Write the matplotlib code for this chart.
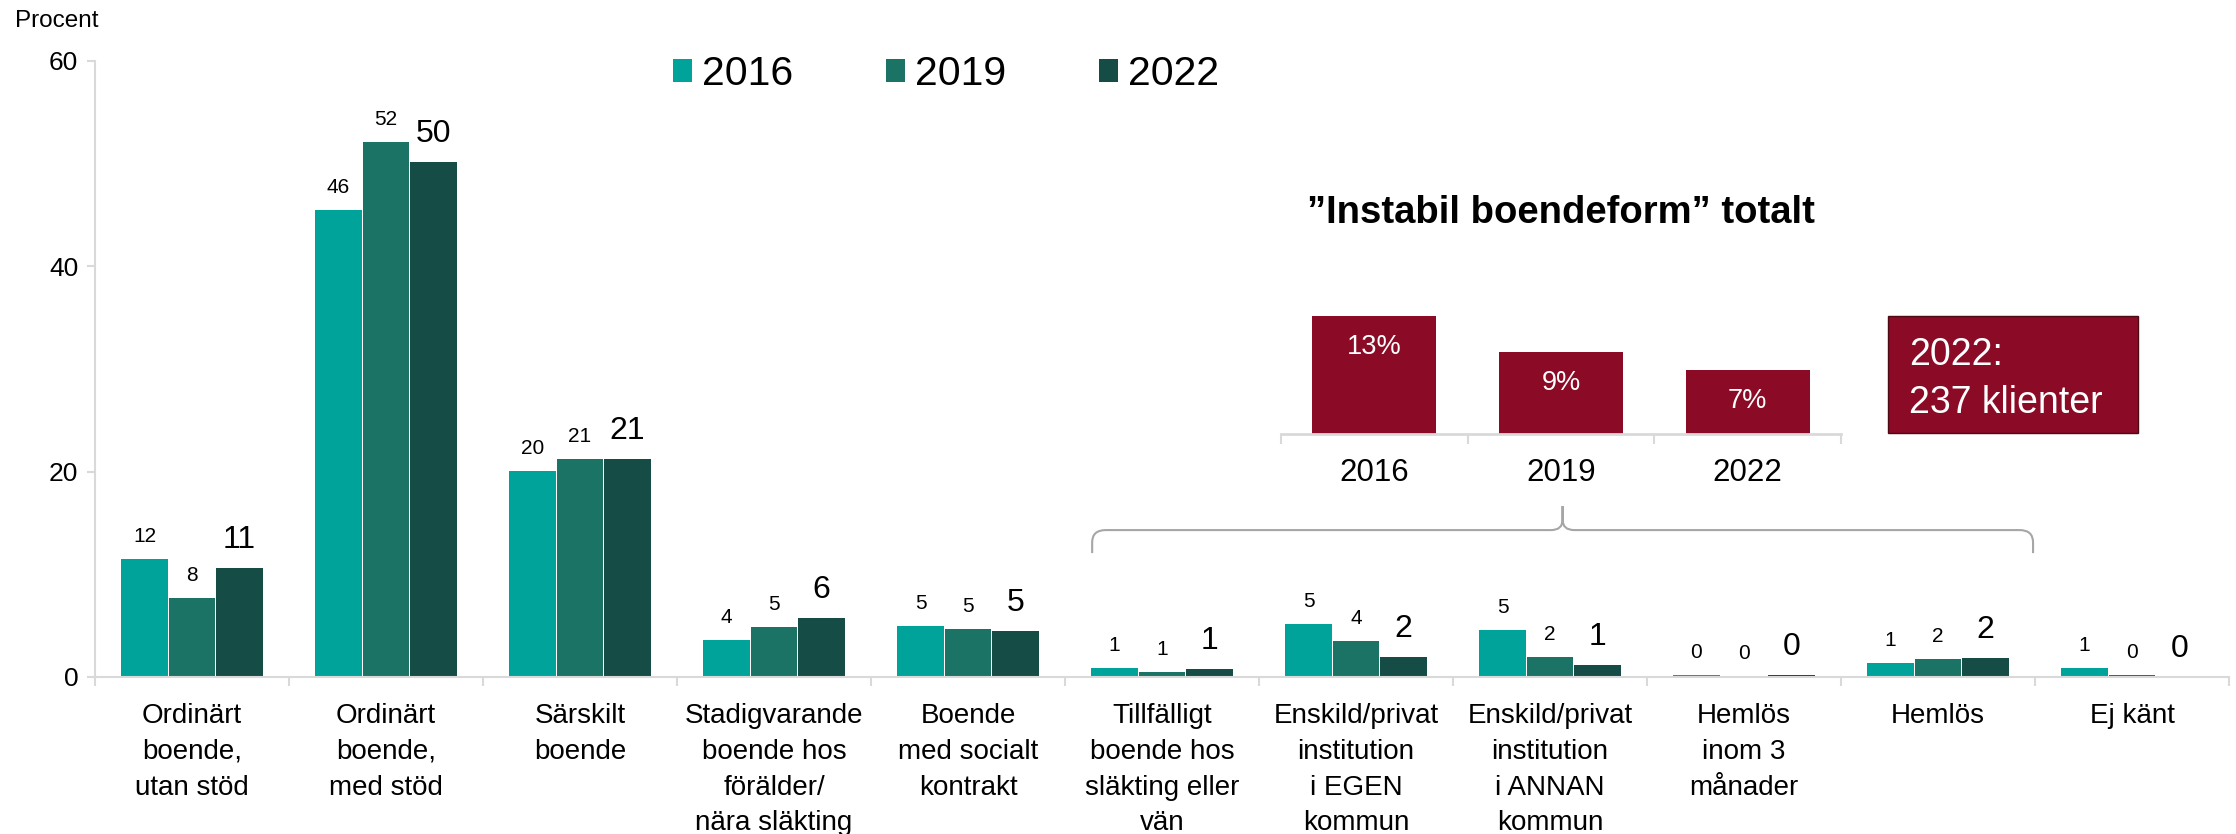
import numpy as np
import matplotlib
matplotlib.use("Agg")
import matplotlib.pyplot as plt
from matplotlib.path import Path
from matplotlib.patches import PathPatch, Rectangle

plt.rcParams['font.family'] = ['Liberation Sans', 'DejaVu Sans']

# data
categories = ["Ordinärt\nboende,\nutan stöd", "Ordinärt\nboende,\nmed stöd", "Särskilt\nboende",
              "Stadigvarande\nboende hos\nförälder/\nnära släkting", "Boende\nmed socialt\nkontrakt",
              "Tillfälligt\nboende hos\nsläkting eller\nvän", "Enskild/privat\ninstitution\ni EGEN\nkommun",
              "Enskild/privat\ninstitution\ni ANNAN\nkommun", "Hemlös\ninom 3\nmånader", "Hemlös", "Ej känt"]
years = ["2016", "2019", "2022"]
v2016 = [11.5, 45.5, 20.1, 3.6, 5.0, 0.9, 5.2, 4.6, 0.2, 1.35, 0.9]
v2019 = [7.7, 52.1, 21.2, 4.9, 4.7, 0.5, 3.5, 1.95, 0.1, 1.75, 0.2]
v2022 = [10.6, 50.2, 21.2, 5.75, 4.5, 0.8, 1.95, 1.2, 0.2, 1.85, 0.0]
lab2016 = [12, 46, 20, 4, 5, 1, 5, 5, 0, 1, 1]
lab2019 = [8, 52, 21, 5, 5, 1, 4, 2, 0, 2, 0]
lab2022 = [11, 50, 21, 6, 5, 1, 2, 1, 0, 2, 0]

inst_years = ["2016", "2019", "2022"]
inst_values = [13, 9, 7]
inst_title = "”Instabil boendeform” totalt"
box_year = "2022"
n_clients = 237

colors = ["#00A39A", "#1B7366", "#154C45"]
red = "#8B0A25"
gray = "#D9D9D9"

W, H = 2236, 834
fig = plt.figure(figsize=(W / 100, H / 100), dpi=100)

# main chart
ax = fig.add_axes([95 / W, 1 - 677 / H, 2134 / W, 616 / H])
x = np.arange(len(categories))
step = 0.245
series = [(v2016, lab2016, 15, 12.2), (v2019, lab2019, 15, 12.2), (v2022, lab2022, 23, 14.4)]
handles = []
for i, (vals, labs, fs, off) in enumerate(series):
    bars = ax.bar(x + (i - 1) * step, vals, step - 0.006, color=colors[i], linewidth=0,
                  label=years[i])
    handles.append(bars)
    for b, lab in zip(bars, labs):
        ax.annotate(str(lab), (b.get_x() + b.get_width() / 2, b.get_height()),
                    xytext=(0, off), textcoords="offset points",
                    ha="center", va="baseline", fontsize=fs)

ax.set_xlim(-0.5, len(categories) - 0.5)
ax.set_ylim(0, 60)
ax.set_yticks([0, 20, 40, 60])
ax.tick_params(axis="y", length=6, width=1.5, color=gray, labelsize=19, pad=6)
ax.set_xticks(np.arange(-0.5, len(categories), 1))
ax.set_xticklabels([])
ax.tick_params(axis="x", which="major", length=6.5, width=1.5, color=gray)
ax.set_xticks(x, minor=True)
ax.set_xticklabels(categories, minor=True, fontsize=20, linespacing=1.48)
ax.tick_params(axis="x", which="minor", length=0, pad=19)
for s in ["top", "right"]:
    ax.spines[s].set_visible(False)
for s in ["left", "bottom"]:
    ax.spines[s].set_color(gray)
    ax.spines[s].set_linewidth(1.5)

ax.legend(handles=handles, ncol=3, loc="center left", bbox_to_anchor=(673 / W, 1 - 74 / H),
          bbox_transform=fig.transFigure, frameon=False, fontsize=29.5,
          handlelength=0.47, handleheight=0.47, handletextpad=0.25, columnspacing=2.25,
          borderpad=0, borderaxespad=0)

fig.text(15 / W, 1 - 27 / H, "Procent", fontsize=17.5, va="baseline")

# brace over the unstable housing categories
bx0, bx1 = 4.64, 9.49
bxc = (bx0 + bx1) / 2
y_end, y_bar, y_peak = 12.07, 14.31, 16.65
verts = [(bx0, y_end), (bx0, y_bar - 1.2), (bx0, y_bar), (bx0 + 0.07, y_bar),
         (bxc - 0.06, y_bar), (bxc, y_bar), (bxc, y_bar + 1.0), (bxc, y_peak),
         (bxc, y_bar + 1.0), (bxc, y_bar), (bxc + 0.06, y_bar),
         (bx1 - 0.07, y_bar), (bx1, y_bar), (bx1, y_bar - 1.2), (bx1, y_end)]
codes = [Path.MOVETO, Path.LINETO, Path.CURVE3, Path.CURVE3,
         Path.LINETO, Path.CURVE3, Path.CURVE3, Path.LINETO,
         Path.LINETO, Path.CURVE3, Path.CURVE3,
         Path.LINETO, Path.CURVE3, Path.CURVE3, Path.LINETO]
ax.add_patch(PathPatch(Path(verts, codes), fill=False, edgecolor="#A6A6A6", lw=1.5,
                       clip_on=False))

# inset chart
ax2 = fig.add_axes([1281 / W, 1 - 434 / H, 560 / W, 136.5 / H])
ax2.patch.set_visible(False)
xi = np.arange(len(inst_years))
bars2 = ax2.bar(xi, inst_values, 0.665, color=red)
for b, v in zip(bars2, inst_values):
    ax2.annotate(f"{v}%", (b.get_x() + b.get_width() / 2, b.get_height()),
                 xytext=(0, -27.4), textcoords="offset points",
                 ha="center", va="baseline", fontsize=19.5, color="white")
ax2.set_xlim(-0.5, len(inst_years) - 0.5)
ax2.set_ylim(0, 15)
ax2.set_yticks([])
ax2.set_xticks(np.arange(-0.5, len(inst_years), 1))
ax2.set_xticklabels([])
ax2.tick_params(axis="x", which="major", length=7, width=1.5, color=gray)
ax2.set_xticks(xi, minor=True)
ax2.set_xticklabels(inst_years, minor=True, fontsize=22.5)
ax2.tick_params(axis="x", which="minor", length=0, pad=17)
for s in ["top", "right", "left"]:
    ax2.spines[s].set_visible(False)
ax2.spines["bottom"].set_color(gray)
ax2.spines["bottom"].set_linewidth(2)

fig.text(1561 / W, 1 - 223 / H, inst_title, ha="center", va="baseline",
         fontsize=27.5, fontweight="bold")

# client count box
fig.add_artist(Rectangle((1888 / W, 1 - 433 / H), 250 / W, 117 / H, transform=fig.transFigure,
                         facecolor=red, edgecolor="#4D0A14", lw=1))
fig.text(1909 / W, 1 - 365 / H, f"{box_year}:", color="white", fontsize=27, va="baseline")
fig.text(1909 / W, 1 - 413 / H, f"{n_clients} klienter", color="white", fontsize=27,
         va="baseline")

fig.savefig("out.png", dpi=100)
